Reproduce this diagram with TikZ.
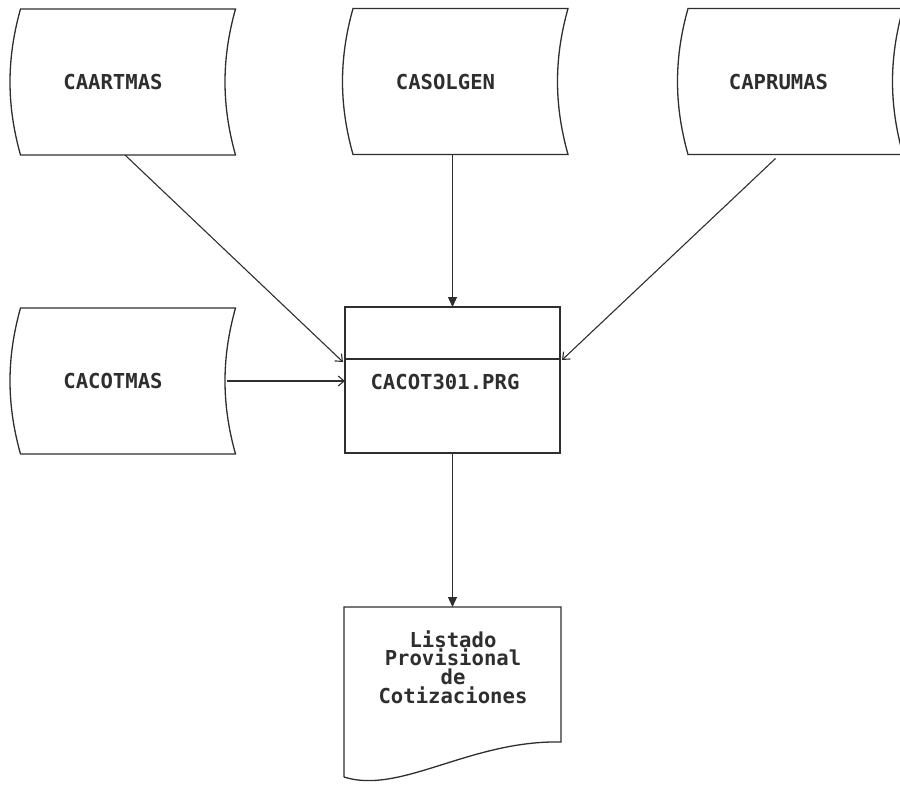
\documentclass[tikz,border=0pt]{standalone}
\usepackage{fontspec}
\newfontfamily\flowfont{DejaVu Sans Mono}
\usetikzlibrary{arrows.meta,calc}

\definecolor{ink}{HTML}{2E2E2E}

% draws the stored-data outline around an (invisible) rectangular node
\newcommand\storedata[1]{%
  \draw[outline] (#1.north west) .. controls +(-14,50) and +(-14,-50) .. (#1.south west)
    -- (#1.south east) .. controls +(-14,-50) and +(-14,50) .. (#1.north east) -- cycle;}

\begin{document}
\begin{tikzpicture}[x=1pt,y=-1pt,
  outline/.style={draw=ink,line width=1.3pt,line join=miter},
  frame/.style={draw=none,rectangle,inner sep=0pt,outer sep=0pt,
    minimum width=215pt,minimum height=146pt},
  lbl/.style={text=ink,inner sep=0pt,font=\flowfont\bfseries\fontsize{20.6}{18.6}\selectfont},
  flow/.style={draw=ink,line width=1.1pt,-{Straight Barb[length=6pt,width=10pt,line width=1.1pt]}},
  feed/.style={draw=ink,line width=1.3pt,-{Triangle[length=10pt,width=9pt]}}]
\useasboundingbox (0,0) rectangle (900,785);

% data files
\node[frame] (artmas) at (128,82) {};
\node[frame] (solgen) at (460.5,81.5) {};
\node[frame] (prumas) at (795.5,81.5) {};
\node[frame] (cotmas) at (128,381) {};
\storedata{artmas}
\storedata{solgen}
\storedata{prumas}
\storedata{cotmas}
\node[lbl] (artmas-t) at ([xshift=-15pt]artmas.center) {CAARTMAS};
\node[lbl] (solgen-t) at ([xshift=-15pt]solgen.center) {CASOLGEN};
\node[lbl] (prumas-t) at ([xshift=-17pt]prumas.center) {CAPRUMAS};
\node[lbl] (cotmas-t) at ([xshift=-15pt]cotmas.center) {CACOTMAS};

% program
\node[frame,outline] (proc) at (452.5,380) {};
\draw[outline] ([yshift=-52pt]proc.north west) coordinate (divl)
  -- ([yshift=-52pt]proc.north east) coordinate (divr);
\node[lbl] (proc-t) at (445,382) {CACOT301.PRG};

% report
\node[frame,minimum width=217pt,minimum height=170pt] (doc) at (452.5,692) {};
\draw[outline] (doc.south west) -- (doc.north west) -- (doc.north east)
  -- ([yshift=-135pt]doc.north east) coordinate (docr)
  .. controls +(-91,-2) and +(56,18) .. (doc.south west);
\node[lbl,align=center] (doc-t) at (453,667) {Listado\\Provisional\\de\\Cotizaciones};

% connectors
\draw[flow] ([xshift=-3pt]artmas.south) -- ([xshift=-2pt,yshift=-3pt]divl);
\draw[feed] (solgen.south -| proc.north) -- (proc.north);
\draw[flow] ([xshift=-20pt,yshift=-4pt]prumas.south) -- ([xshift=2pt,yshift=-1pt]divr);
\draw[flow] ([xshift=-9pt]cotmas.east) -- (proc.west |- cotmas.east);
\draw[feed] (proc.south) -- (doc.north);
\end{tikzpicture}
\end{document}
